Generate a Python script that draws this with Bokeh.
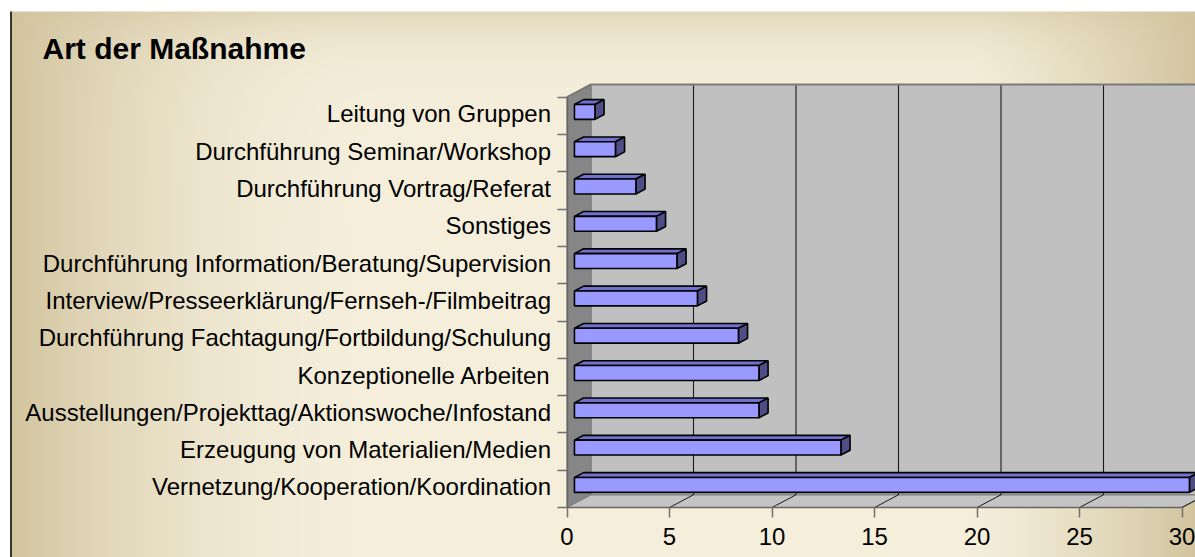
import numpy as np
from bokeh.plotting import figure
from bokeh.models import Range1d, LinearAxis, FixedTicker, Label
from bokeh.embed import file_html
from bokeh.resources import INLINE

# ---------------- data ----------------
categories = [
    "Vernetzung/Kooperation/Koordination",
    "Erzeugung von Materialien/Medien",
    "Ausstellungen/Projekttag/Aktionswoche/Infostand",
    "Konzeptionelle Arbeiten",
    "Durchführung Fachtagung/Fortbildung/Schulung",
    "Interview/Presseerklärung/Fernseh-/Filmbeitrag",
    "Durchführung Information/Beratung/Supervision",
    "Sonstiges",
    "Durchführung Vortrag/Referat",
    "Durchführung Seminar/Workshop",
    "Leitung von Gruppen",
]
values = [30, 13, 9, 9, 8, 6, 5, 4, 3, 2, 1]
x_ticks = [0, 5, 10, 15, 20, 25, 30]
title = "Art der Maßnahme"

# ---------------- layout constants ----------------
W, H = 1195, 557
OFF = 0
X0_PAGE, PX_PER_X = 566.5, 20.5
Y0_PAGE, PX_PER_CAT = 507.0, 37.3
DX = 24.0 / PX_PER_X        # full 3D depth in x units
DY = 12.7 / PX_PER_CAT      # full 3D depth in y units
F0, F1 = 0.31, 0.69         # bar depth span
HB = 0.20                   # bar half height (category units)
N = len(categories)
XMAX = x_ticks[-1]
FONT = "Liberation Sans"


def dx(px):
    return (px - X0_PAGE) / PX_PER_X


def dy(py):
    return (Y0_PAGE - py) / PX_PER_CAT


p = figure(width=W, height=H, min_border=0, x_axis_type=None, y_axis_type=None,
           toolbar_location=None, output_backend="svg",
           x_range=Range1d(dx(OFF), dx(OFF + W)),
           y_range=Range1d(dy(OFF + H), dy(OFF)))
p.background_fill_color = "white"
p.border_fill_color = "white"
p.outline_line_color = None

# ---------------- background gradient ----------------
step = 2
gx0, gx1, gy0, gy1 = 10, 1195, 11, 557
ncol = int((gx1 - gx0) / step)
nrow = int((gy1 - gy0) / step)
XX = gx0 + (np.arange(ncol) + 0.5) * step
YY = gy1 - (np.arange(nrow) + 0.5) * step          # bottom row first
XG, YG = np.meshgrid(XX, YY)
tl = np.clip(1 - (XG - 10) / 380.0, 0, 1) ** 2
tr = np.clip(1 - (1195 - XG) / 230.0, 0, 1) ** 1.3
tt = 0.55 * np.exp(-(YG - 11) / 28.0)
t = 1 - (1 - tl) * (1 - tr) * (1 - tt)
light = np.array([244, 238, 219], dtype=float)
tan = np.array([210, 196, 158], dtype=float)
rgb = light[None, None, :] * (1 - t[..., None]) + tan[None, None, :] * t[..., None]
img = np.empty((nrow, ncol, 4), dtype=np.uint8)
img[..., :3] = np.round(rgb).astype(np.uint8)
img[..., 3] = 255
img32 = img.view(dtype=np.uint32).reshape((nrow, ncol))
p.image_rgba(image=[img32], x=dx(gx0), y=dy(gy1), dw=dx(gx1) - dx(gx0), dh=dy(gy0) - dy(gy1))

# left frame border
p.segment(x0=[dx(10.5)], y0=[dy(11)], x1=[dx(10.5)], y1=[dy(557)], line_color="black", line_width=1.5)

# ---------------- 3D walls ----------------
WALL_LINE = "#808080"
# back wall
p.patch([DX, XMAX + DX, XMAX + DX, DX], [DY, DY, N + DY, N + DY],
        fill_color="#C0C0C0", line_color=WALL_LINE, line_width=1.2)
# side wall
p.patch([0, DX, DX, 0], [0, DY, N + DY, N],
        fill_color="#868686", line_color=WALL_LINE, line_width=1.2)
# floor
p.patch([0, XMAX, XMAX + DX, DX], [0, 0, DY, DY],
        fill_color="#C4C4C4", line_color=WALL_LINE, line_width=1.2)

# gridlines on back wall and floor
grid_x = [v for v in x_ticks if 0 < v < XMAX]
p.segment(x0=[v + DX for v in grid_x], y0=[DY] * len(grid_x),
          x1=[v + DX for v in grid_x], y1=[N + DY] * len(grid_x),
          line_color="#1a1a1a", line_width=1.1)
fl_x = [v for v in x_ticks if v > 0]
p.segment(x0=fl_x, y0=[0] * len(fl_x), x1=[v + DX for v in fl_x], y1=[DY] * len(fl_x),
          line_color="#1a1a1a", line_width=1.0)
# top edges of walls
p.segment(x0=[DX, 0], y0=[N + DY, N], x1=[XMAX + DX, DX], y1=[N + DY, N + DY],
          line_color="#7a7a7a", line_width=2)

# ---------------- 3D bars ----------------
centers = [i + 0.5 for i in range(N)]
fx0, fy0 = F0 * DX, F0 * DY
fx1, fy1 = F1 * DX, F1 * DY
order = list(range(N - 1, -1, -1))

top_xs, top_ys, side_xs, side_ys = [], [], [], []
for i in order:
    v, c = values[i], centers[i]
    top_xs.append([fx0, v + fx0, v + fx1, fx1])
    top_ys.append([c + HB + fy0, c + HB + fy0, c + HB + fy1, c + HB + fy1])
    side_xs.append([v + fx0, v + fx1, v + fx1, v + fx0])
    side_ys.append([c - HB + fy0, c - HB + fy1, c + HB + fy1, c + HB + fy0])

p.patches(top_xs, top_ys, fill_color="#7171CE", line_color="black", line_width=1.6)
p.patches(side_xs, side_ys, fill_color="#4E4E86", line_color="black", line_width=1.6)
p.quad(left=[fx0] * N, right=[values[i] + fx0 for i in range(N)],
       bottom=[c - HB + fy0 for c in centers], top=[c + HB + fy0 for c in centers],
       fill_color="#9999FF", line_color="black", line_width=1.6)

# ---------------- axes ----------------
xa = LinearAxis(ticker=FixedTicker(ticks=x_ticks), fixed_location=0, bounds=(0, XMAX),
                major_tick_out=10, major_tick_in=0, minor_tick_out=0, minor_tick_in=0,
                axis_line_color="#666666", axis_line_width=1.5,
                major_tick_line_color="#707070", major_tick_line_width=1.5,
                major_label_text_font=FONT, major_label_text_font_size="24px",
                major_label_text_color="black", major_label_standoff=10)
p.add_layout(xa, "below")

ya_ticks = LinearAxis(ticker=FixedTicker(ticks=list(range(N + 1))), fixed_location=0,
                      bounds=(0, N), major_tick_out=10, major_tick_in=0,
                      minor_tick_out=0, minor_tick_in=0,
                      axis_line_color="#666666", axis_line_width=1.5,
                      major_tick_line_color="#707070", major_tick_line_width=1.5,
                      major_label_text_color=None)
p.add_layout(ya_ticks, "left")

label_pos = [c + 0.05 for c in centers]
ya_labels = LinearAxis(ticker=FixedTicker(ticks=label_pos), fixed_location=0,
                       major_tick_out=0, major_tick_in=0, minor_tick_out=0, minor_tick_in=0,
                       axis_line_color=None, major_tick_line_color=None,
                       major_label_overrides={c: cat for c, cat in zip(label_pos, categories)},
                       major_label_text_font=FONT, major_label_text_font_size="24px",
                       major_label_text_color="black", major_label_standoff=16)
p.add_layout(ya_labels, "left")

# ---------------- title ----------------
p.add_layout(Label(x=42 - OFF, y=(OFF + H) - 48, x_units="screen", y_units="screen",
                   text=title, text_font=FONT, text_font_style="bold",
                   text_font_size="30px", text_color="black",
                   text_baseline="alphabetic"))

open("out.html", "w").write(file_html(p, INLINE))
